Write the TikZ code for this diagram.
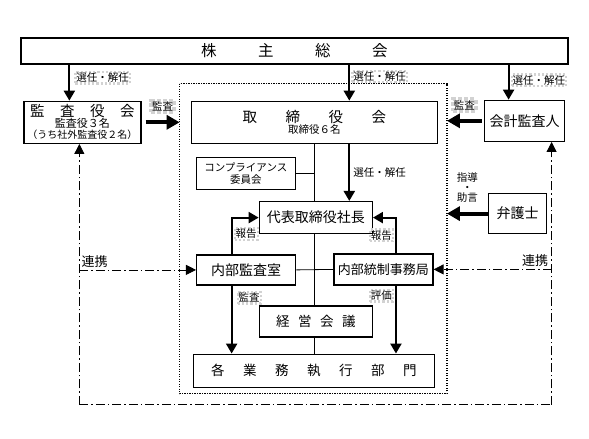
\documentclass[tikz,border=0pt]{standalone}
\usepackage{fontspec}
\setmainfont{Noto Sans CJK JP}
\usetikzlibrary{positioning, arrows.meta}

\tikzset{
    box/.style={draw, line width=1.3pt, fill=white, inner sep=0pt, align=center},
    lbl/.style={inner sep=1pt, font=\fontsize{10.5}{11}\selectfont},
    dlbl/.style={lbl, draw=gray!35, dotted},
    arr/.style={line width=2.2pt, -{Triangle[width=11pt,length=10pt]}},
    fat/.style={line width=4pt, -{Triangle[width=14pt,length=13pt]}},
    link/.style={line width=0.8pt, dash pattern=on 9pt off 3pt on 1.5pt off 3pt},
    ltip/.style={-{Triangle[width=10pt,length=10pt]}},
    ln/.style={line width=0.8pt},
}

\begin{document}
\begin{tikzpicture}
        \node[box, minimum width=547pt, minimum height=26pt, font=\fontsize{15.5}{17}\selectfont] (box 0) {株\hspace{41.5pt}主\hspace{41.5pt}総\hspace{41.5pt}会};
        \path[use as bounding box] (box 0.center) ++(-294.5pt,51pt) rectangle ++(589pt,-439pt);

        \node[box, minimum width=117pt, minimum height=42pt, below right=36pt and 3pt of box 0.south west] (box 1)
            {{\fontsize{14.5}{14}\selectfont 監\hspace{15.5pt}査\hspace{15.5pt}役\hspace{15.5pt}会}\\[-1pt]
             {\fontsize{11}{12}\selectfont 監査役３名}\\[-1pt]
             {\fontsize{10}{12}\selectfont （うち社外監査役２名）}};
        \node[box, minimum width=246pt, minimum height=42pt, right=49pt of box 1] (box 2)
            {{\fontsize{14.5}{14}\selectfont 取\hspace{28.5pt}締\hspace{28.5pt}役\hspace{28.5pt}会}\\[-1pt]
             {\fontsize{10.5}{12}\selectfont 取締役６名}};
        \node[box, minimum width=80pt, minimum height=41pt, right=46pt of box 2, yshift=1.5pt,
            font=\fontsize{14}{16}\selectfont] (box 3) {会計監査人};
        \node[box, minimum width=99pt, minimum height=32pt, below right=13pt and 5pt of box 2.south west,
            font=\fontsize{10.5}{12}\selectfont] (box 4) {コンプライアンス\\委員会};
        \node[box, minimum width=113pt, minimum height=32pt, below=57pt of box 2,
            font=\fontsize{14}{16}\selectfont, xshift=1.5pt] (box 5) {代表取締役社長};
        \node[box, minimum width=99pt, minimum height=30pt, below left=20pt and 19.5pt of box 5.south,
            font=\fontsize{14}{16}\selectfont] (box 6) {内部監査室};
        \node[box, minimum width=99pt, minimum height=31pt, below right=19pt and 17.5pt of box 5.south,
            font=\fontsize{13}{15}\selectfont] (box 7) {内部統制事務局};
        \node[box, minimum width=113pt, minimum height=31pt, below=71pt of box 5,
            font=\fontsize{13.5}{15}\selectfont] (box 8) {経\hspace{8.5pt}営\hspace{8.5pt}会\hspace{8.5pt}議};
        \node[box, minimum width=241pt, minimum height=33pt, below=16pt of box 8, xshift=-2pt,
            font=\fontsize{13.5}{15}\selectfont] (box 9) {各\hspace{18.5pt}業\hspace{18.5pt}務\hspace{18.5pt}執\hspace{18.5pt}行\hspace{18.5pt}部\hspace{18.5pt}門};
        \node[box, minimum width=58pt, minimum height=40pt, below=51pt of box 3, xshift=-7pt,
            font=\fontsize{14}{16}\selectfont] (box 10) {弁護士};

        % frame
        \coordinate (f1) at ([shift={(-11pt,17pt)}]box 2.north west);
        \coordinate (f2) at ([shift={(12pt,-6pt)}]box 9.south east);
        \draw[line width=1.2pt, dash pattern=on 1.2pt off 1.3pt] (f1) rectangle (f2);

        \coordinate (a1) at ([xshift=46pt]box 1.north west);
        \coordinate (a2) at ([xshift=35pt]box 2.north);
        \coordinate (a3) at ([xshift=-16pt]box 3.north);
        \draw[arr] (box 0.south -| a1) -- (a1) node[dlbl, pos=0.36, right=5pt] {選任・解任};
        \draw[arr] (box 0.south -| a2) -- (a2) node[dlbl, pos=0.33, right=2pt] {選任・解任};
        \draw[arr] (box 0.south -| a3) -- (a3) node[dlbl, pos=0.45, right=2pt] {選任・解任};

        \draw[fat] ([xshift=4pt]box 1.east) -- (box 1.east -| f1) node[dlbl, midway, above=8pt] {監査};
        \draw[fat] ([xshift=-2pt]box 3.west) -- (box 3.west -| f2) node[dlbl, midway, above=8pt] {監査};
        \draw[fat] (box 10.west) -- (box 10.west -| f2)
            node[lbl, midway, above=8pt, align=center, font=\fontsize{10.5}{10}\selectfont] {指導\\・\\助言};

        \draw[arr] (box 2.south -| a2) -- (box 5.north -| a2) node[lbl, midway, right=2pt] {選任・解任};

        \draw[ln] (box 2.south) -- (box 2.south |- box 5.north);
        \draw[ln] (box 5.south -| box 2.south) -- (box 8.north -| box 2.south);
        \draw[ln] (box 8.south -| box 2.south) -- (box 9.north -| box 2.south);
        \draw[ln] (box 4.east) -- (box 4.east -| box 2.south);
        \draw[ln] (box 6.east) -- (box 7.west);

        \coordinate (b1) at ([xshift=-14.5pt]box 6.north);
        \coordinate (b2) at ([xshift=12.5pt]box 7.north);
        \draw[arr] (b1) |- (box 5.west) node[dlbl, pos=0.28, right=2pt] {報告};
        \draw[arr] (b2) |- (box 5.east) node[dlbl, pos=0.25, left=2pt] {報告};
        \draw[arr] (box 6.south -| b1) -- (box 9.north -| b1) node[dlbl, pos=0.18, right=5pt] {監査};
        \draw[arr] (box 7.south -| b2) -- (box 9.north -| b2) node[dlbl, pos=0.15, left=2pt] {評価};

        % links
        \coordinate (l1) at ([xshift=56pt]box 1.south west);
        \coordinate (r1) at ([xshift=27pt]box 3.south);
        \coordinate (bot) at ([yshift=-17pt]box 9.south);
        \draw[link] (l1 |- bot) -- (r1 |- bot);
        \draw[link, ltip] (l1 |- bot) -- (l1);
        \draw[link, ltip] (r1 |- bot) -- (r1);
        \draw[link, ltip] (box 6.west -| l1) -- (box 6.west)
            node[lbl, pos=0.13, above=1pt, font=\fontsize{13}{14}\selectfont] {連携};
        \draw[link, ltip] (box 7.east -| r1) -- (box 7.east)
            node[lbl, pos=0.14, above=1pt, font=\fontsize{13}{14}\selectfont] {連携};

    \end{tikzpicture}
\end{document}
